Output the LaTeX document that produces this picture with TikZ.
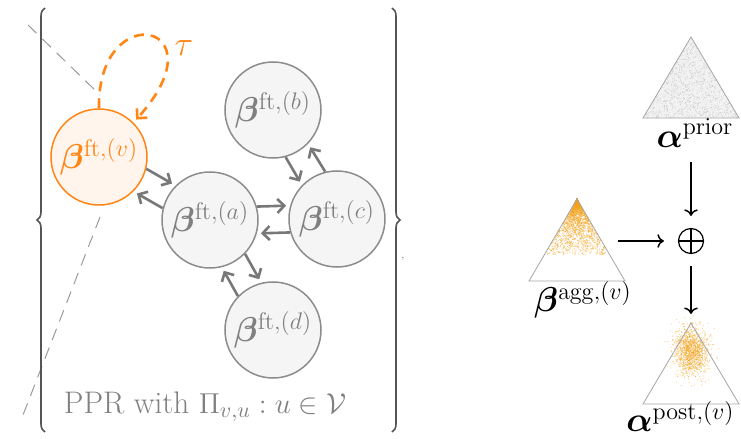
\documentclass[tikz,border=0pt]{standalone}
\usepackage{amsmath,amssymb,bm}
\usetikzlibrary{decorations.pathreplacing,arrows.meta}

\definecolor{nodegray}{RGB}{140,140,140}
\definecolor{nodefill}{RGB}{245,245,245}
\definecolor{textgray}{RGB}{128,128,128}
\definecolor{arrowgray}{RGB}{120,120,120}
\definecolor{pprorange}{RGB}{255,133,20}
\definecolor{vfill}{RGB}{255,245,236}
\definecolor{bracegray}{RGB}{85,85,85}
\definecolor{dotorange}{RGB}{242,160,25}

\begin{document}
\begin{tikzpicture}[x=0.5pt, y=-0.5pt,
    ftnode/.style={circle, draw=nodegray, fill=nodefill, line width=0.75pt, minimum size=48pt, inner sep=0pt, text=textgray, font=\LARGE},
    pprarrow/.style={-{Straight Barb[length=3.5pt, width=7pt]}, draw=arrowgray, line width=1.3pt, shorten >=2pt},
    flow/.style={->, line width=0.75pt}]
    \useasboundingbox (0,0) rectangle (741,439);

    % Zoom lines
    \draw[gray!80, line width=0.5pt, dash pattern=on 6pt off 4pt] (28,25) -- (100,95);
    \draw[gray!80, line width=0.5pt, dash pattern=on 6pt off 4pt] (100,217) -- (23,415);

    % Braces
    \draw[bracegray, line width=0.8pt, decorate, decoration={brace, amplitude=4pt}] (45,432) -- (45,8);
    \draw[bracegray, line width=0.8pt, decorate, decoration={brace, amplitude=4pt}] (392,8) -- (392,432);
    \node[text=textgray, font=\tiny] (comma) at (403,259) {,};

    % Nodes of the graph
    \node[ftnode, draw=pprorange, fill=vfill, text=pprorange] (v) at (99,157) {$\bm{\beta}^{\mathrm{ft},(v)}$};
    \node[ftnode] (a) at (210,220) {$\bm{\beta}^{\mathrm{ft},(a)}$};
    \node[ftnode] (b) at (273,110) {$\bm{\beta}^{\mathrm{ft},(b)}$};
    \node[ftnode] (c) at (337,219) {$\bm{\beta}^{\mathrm{ft},(c)}$};
    \node[ftnode] (d) at (273,330) {$\bm{\beta}^{\mathrm{ft},(d)}$};
    \node[text=textgray, font=\fontsize{15.6}{18}\selectfont, anchor=base] (ppr) at (205,413) {PPR with $\Pi_{v,u} : u \in \mathcal{V}$};

    % Self loop
    \draw[-{Straight Barb[length=3.5pt, width=7pt]}, pprorange, line width=1.3pt, dash pattern=on 5pt off 3.5pt, shorten >=2pt] (v.90) .. controls +(-2,-112) and +(90,-100) .. (v.45);
    \node[text=pprorange, font=\LARGE] (tau) at (184,48) {$\tau$};

    % Arrows between the nodes
    \draw[pprarrow] (v.-14) -- (a.135);
    \draw[pprarrow] (a.166) -- (v.-45);
    \draw[pprarrow] (a.16) -- (c.164);
    \draw[pprarrow] (c.196) -- (a.-16);
    \draw[pprarrow] (b.-75) -- (c.136);
    \draw[pprarrow] (c.104) -- (b.-44);
    \draw[pprarrow] (a.-44) -- (d.104);
    \draw[pprarrow] (d.136) -- (a.-76);

    % Prior simplex
    \fill[gray!10] (691,37) -- (643,118) -- (739,118) -- cycle;
    \pgfmathsetseed{11}
    \foreach \i in {1,...,1100}{
        \pgfmathsetmacro{\ra}{sqrt(rnd)}
        \pgfmathsetmacro{\rb}{rnd}
        \fill[gray!45] ({691+\ra*(96*\rb-48)}, {37+81*\ra}) circle (0.2pt);
    }
    \draw[gray!70, line width=0.4pt] (691,37) -- (643,118) -- (739,118) -- cycle;
    \node[font=\LARGE] (aprior) at (695,133) {$\bm{\alpha}^{\mathrm{prior}}$};

    % Aggregated simplex
    \foreach \i in {1,...,2500}{
        \pgfmathsetmacro{\ra}{0.68*rnd^1.8}
        \pgfmathsetmacro{\rb}{rnd}
        \fill[dotorange, opacity=0.5] ({577+\ra*(96*\rb-48)}, {199+82*\ra}) circle (0.3pt);
    }
    \draw[gray!70, line width=0.4pt] (577,199) -- (529,281) -- (625,281) -- cycle;
    \node[font=\LARGE] (bagg) at (583,300) {$\bm{\beta}^{\mathrm{agg},(v)}$};

    % Posterior simplex
    \foreach \i in {1,...,1300}{
        \pgfmathsetmacro{\rr}{sqrt(-2*ln(0.001+0.998*rnd))}
        \pgfmathsetmacro{\rt}{360*rnd}
        \fill[dotorange, opacity=0.5] ({691+8.5*\rr*cos(\rt)}, {352+12*\rr*sin(\rt)}) circle (0.3pt);
    }
    \draw[gray!70, line width=0.4pt] (691,323) -- (643,404) -- (739,404) -- cycle;
    \node[font=\LARGE, inner sep=1pt, anchor=south east] (apost) at (737,434) {$\bm{\alpha}^{\mathrm{post},(v)}$};

    % Combination
    \node[circle, draw, minimum size=12.5pt, inner sep=0pt, line width=0.6pt,
        path picture={\draw[line width=0.6pt] (path picture bounding box.north) -- (path picture bounding box.south)
        (path picture bounding box.west) -- (path picture bounding box.east);}] (plus) at (691,241) {};
    \coordinate (priorout) at (691,162);
    \coordinate (aggout) at (618,241);
    \coordinate (posttop) at (691,314);
    \draw[flow, shorten >=6pt] (priorout) -- (plus);
    \draw[flow, shorten >=7pt] (aggout) -- (plus);
    \draw[flow, shorten <=6pt] (plus) -- (posttop);
\end{tikzpicture}
\end{document}
